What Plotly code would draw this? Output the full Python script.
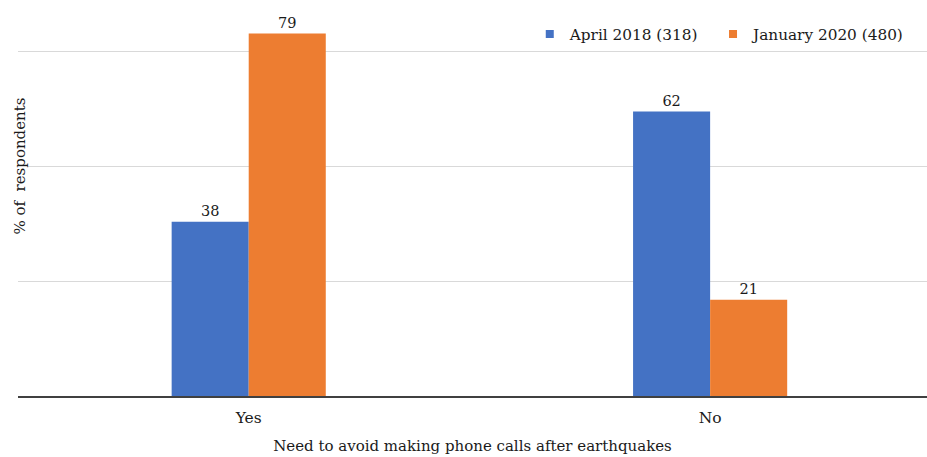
import plotly.graph_objects as go

categories = ["Yes", "No"]
april_2018 = [38, 62]
january_2020 = [79, 21]
series_names = ["April 2018 (318)", "January 2020 (480)"]
colors = ["#4472C4", "#ED7D31"]
y_grid = [25, 50, 75]

FONT = "DejaVu Serif"
TXT = "#1a1a1a"

fig = go.Figure()
for vals, name, col in zip([april_2018, january_2020], series_names, colors):
    fig.add_trace(go.Bar(x=categories, y=vals, name=name, showlegend=False,
                         marker=dict(color=col, line=dict(width=0)),
                         text=vals, textposition="outside", cliponaxis=False,
                         textfont=dict(family=FONT, size=14.5, color=TXT)))
for name, col, lg in zip(series_names, colors, ["legend", "legend2"]):
    fig.add_trace(go.Scatter(x=[None], y=[None], mode="markers", name=name, legend=lg,
                             marker=dict(symbol="square", size=8, color=col)))

legend_style = dict(orientation="h", y=0.914, xanchor="left", yanchor="middle",
                    font=dict(family=FONT, size=15.3, color=TXT),
                    bgcolor="rgba(0,0,0,0)")

fig.update_layout(
    width=927, height=457,
    margin=dict(l=18, r=0, t=0, b=61),
    paper_bgcolor="white", plot_bgcolor="white",
    font=dict(family=FONT, size=15, color=TXT),
    barmode="group", bargap=0.666, bargroupgap=0,
    showlegend=True,
    legend=dict(x=0.563, **legend_style),
    legend2=dict(x=0.7646, **legend_style),
    xaxis=dict(range=[-0.5, 1.47], showgrid=False, ticks="", ticklabelstandoff=6,
               showline=True, linecolor="#404040", linewidth=2,
               tickfont=dict(family=FONT, size=15.5, color=TXT),
               title=dict(text="Need to avoid making phone calls after earthquakes",
                          font=dict(family=FONT, size=15, color=TXT), standoff=15)),
    yaxis=dict(range=[0, 86.3], tickvals=y_grid, showticklabels=False,
               showgrid=True, gridcolor="#d9d9d9", gridwidth=1, zeroline=False,
               showline=False),
)
fig.add_annotation(text="% of  respondents", xref="paper", yref="y", x=0, y=50,
                   xanchor="center", yanchor="middle", xshift=2, textangle=-90,
                   showarrow=False, font=dict(family=FONT, size=15, color=TXT))

fig.write_html("out.html", config={"displayModeBar": False},
               post_script="document.body.style.margin='0';document.documentElement.style.overflow='hidden';")
